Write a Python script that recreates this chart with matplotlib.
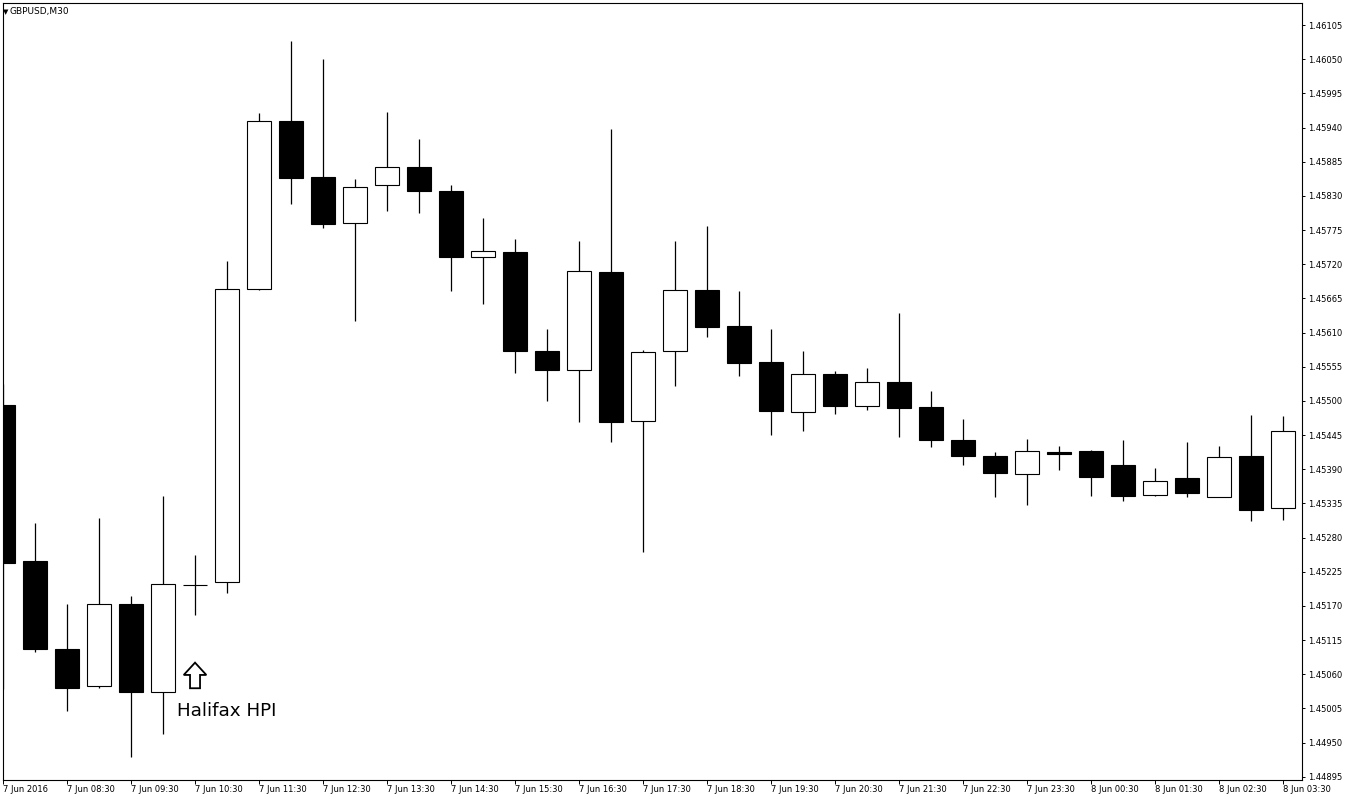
import matplotlib
matplotlib.use("Agg")
import matplotlib.pyplot as plt
from matplotlib.patches import Polygon
from matplotlib.transforms import Affine2D, ScaledTranslation
import numpy as np

# GBPUSD M30, 7 Jun 2016 07:30 .. 8 Jun 03:30 (one row per candle)
times = ["7 Jun 2016", "", "7 Jun 08:30", "", "7 Jun 09:30", "", "7 Jun 10:30", "",
         "7 Jun 11:30", "", "7 Jun 12:30", "", "7 Jun 13:30", "", "7 Jun 14:30", "",
         "7 Jun 15:30", "", "7 Jun 16:30", "", "7 Jun 17:30", "", "7 Jun 18:30", "",
         "7 Jun 19:30", "", "7 Jun 20:30", "", "7 Jun 21:30", "", "7 Jun 22:30", "",
         "7 Jun 23:30", "", "8 Jun 00:30", "", "8 Jun 01:30", "", "8 Jun 02:30", "",
         "8 Jun 03:30"]

opens = [1.45493, 1.45242, 1.45101, 1.45041, 1.45173, 1.45032, 1.45204, 1.45209,
         1.45680, 1.45950, 1.45860, 1.45786, 1.45847, 1.45877, 1.45838, 1.45731,
         1.45740, 1.45580, 1.45549, 1.45707, 1.45467, 1.45580, 1.45678, 1.45620,
         1.45562, 1.45482, 1.45543, 1.45491, 1.45530, 1.45490, 1.45437, 1.45411,
         1.45383, 1.45417, 1.45419, 1.45397, 1.45349, 1.45376, 1.45346, 1.45411,
         1.45327]
highs = [1.45527, 1.45303, 1.45173, 1.45312, 1.45186, 1.45347, 1.45252, 1.45725,
         1.45964, 1.46079, 1.46050, 1.45857, 1.45965, 1.45921, 1.45847, 1.45794,
         1.45761, 1.45616, 1.45757, 1.45938, 1.45582, 1.45757, 1.45781, 1.45677,
         1.45616, 1.45580, 1.45548, 1.45553, 1.45641, 1.45516, 1.45471, 1.45418,
         1.45439, 1.45427, 1.45421, 1.45437, 1.45392, 1.45434, 1.45427, 1.45477,
         1.45476]
lows = [1.45036, 1.45095, 1.45001, 1.45038, 1.44926, 1.44963, 1.45156, 1.45190,
        1.45678, 1.45817, 1.45778, 1.45628, 1.45806, 1.45803, 1.45677, 1.45656,
        1.45545, 1.45500, 1.45466, 1.45433, 1.45256, 1.45524, 1.45602, 1.45540,
        1.45445, 1.45452, 1.45479, 1.45485, 1.45442, 1.45426, 1.45396, 1.45346,
        1.45333, 1.45388, 1.45347, 1.45339, 1.45347, 1.45346, 1.45346, 1.45307,
        1.45309]
closes = [1.45239, 1.45100, 1.45037, 1.45173, 1.45032, 1.45205, 1.45204, 1.45680,
          1.45950, 1.45859, 1.45785, 1.45845, 1.45877, 1.45838, 1.45732, 1.45741,
          1.45581, 1.45549, 1.45709, 1.45466, 1.45578, 1.45678, 1.45619, 1.45561,
          1.45483, 1.45543, 1.45491, 1.45530, 1.45489, 1.45437, 1.45412, 1.45384,
          1.45420, 1.45414, 1.45378, 1.45347, 1.45371, 1.45351, 1.45409, 1.45325,
          1.45451]

W, H = 1345, 801
fig = plt.figure(figsize=(W / 100, H / 100), dpi=100)
ax = fig.add_axes([2.7 / W, (H - 780) / H, (1302.3 - 2.7) / W, (780 - 2.7) / H])

x = np.arange(len(opens))
o = np.array(opens)
c = np.array(closes)
bull = c >= o

ax.vlines(x, lows, highs, color="black", lw=0.9, zorder=1)
bottoms = np.minimum(o, c)
heights = np.abs(c - o)
ax.bar(x, heights, bottom=bottoms, width=0.75,
       color=np.where(bull, "white", "black"), edgecolor="black",
       linewidth=0.8, zorder=2)

ax.set_xlim(-0.01, 40.6)
ax.set_ylim(1.448897, 1.461409)

yt = np.arange(1.44895, 1.46106, 0.00055)
ax.set_yticks(yt, [f"{v:.5f}" for v in yt])
ax.yaxis.tick_right()
ax.tick_params(axis="y", direction="out", length=2.2, width=0.7, pad=2,
               labelsize=6)

ax.set_xticks(x, times)
ax.tick_params(axis="x", direction="out", length=3.2, width=0.7, pad=0.6,
               labelsize=6)
for t, lbl in zip(ax.xaxis.get_major_ticks(), times):
    if not lbl:
        t.tick1line.set_visible(False)
for lbl in ax.get_xticklabels():
    lbl.set_ha("left")

for s in ax.spines.values():
    s.set_linewidth(0.8)

# symbol header
fig.text(2.5 / W, 1 - 11.8 / H, "\u25BC", fontsize=5, va="center", ha="left")
fig.text(10 / W, 1 - 11.5 / H, "GBPUSD,M30", fontsize=6.5, va="center", ha="left")

# event marker: hollow up arrow (shape in pixels around the anchor)
arrow_shape = [(0, 12.8), (11.3, 0.5), (5, 0.5), (5, -12.8), (-5, -12.8),
               (-5, 0.5), (-11.3, 0.5)]
arrow_tr = Affine2D() + ScaledTranslation(6, 1.45058, ax.transData)
ax.add_patch(Polygon(arrow_shape, closed=True, facecolor="white",
                     edgecolor="black", linewidth=1.3, transform=arrow_tr,
                     zorder=3, clip_on=False))
ax.text(5.43, 1.44993, "Halifax HPI", fontsize=13.2, ha="left", va="baseline")

fig.savefig("out.png", dpi=100, facecolor="white")
